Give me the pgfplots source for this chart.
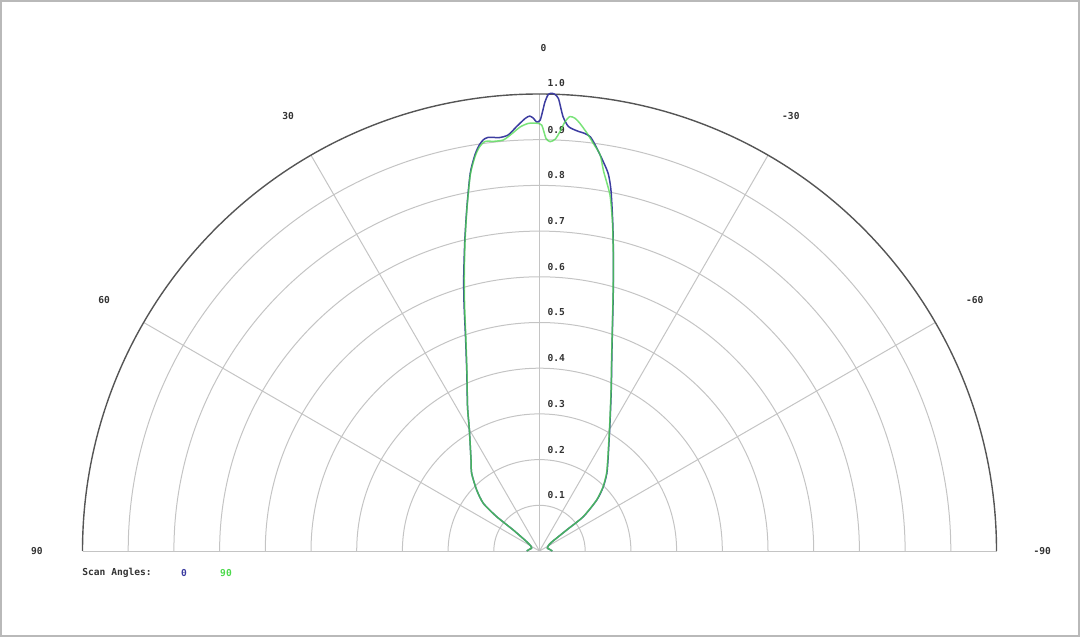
\documentclass[border=0pt]{standalone}
\usepackage{pgfplots}
\usepackage{pgfplotstable}
\pgfplotsset{compat=1.18}
\usepackage{fontspec}
\setmonofont{DejaVu Sans Mono}

\definecolor{scanblue}{HTML}{3C3CA0}
\definecolor{scangreen}{HTML}{4CD94C}
\definecolor{ringgray}{HTML}{C4C4C4}
\definecolor{rimgray}{HTML}{555555}
\newcommand{\lab}{\ttfamily\bfseries\fontsize{4.8}{5.5}\selectfont}

% t = scan angle in degrees (0 at top, +90 left), r = normalised level
\pgfplotstableread{
t r
90 0.028
80 0.022
70 0.018
60 0.022
54.0 0.035
51.3 0.074
51.3 0.120
49.7 0.161
45.8 0.192
41.1 0.226
37.0 0.249
30.1 0.306
26.5 0.353
22.2 0.421
19.3 0.489
17.1 0.561
16.1 0.598
15.2 0.632
13.5 0.700
11.9 0.770
10.4 0.840
9.3 0.877
8.5 0.897
7.8 0.908
7.1 0.912
5.5 0.909
4.3 0.913
3.1 0.930
1.9 0.947
1.3 0.952
0.8 0.947
0.4 0.939
-0.1 0.943
-0.7 0.983
-1.1 0.999
-1.5 1.002
-1.9 1.000
-2.4 0.991
-3.1 0.952
-3.9 0.931
-5.1 0.923
-6.2 0.919
-7.0 0.913
-7.8 0.897
-9.0 0.870
-10.3 0.840
-11.2 0.805
-12.6 0.735
-14.1 0.664
-15.8 0.593
-17.8 0.523
-20.4 0.454
-24.0 0.386
-28.9 0.319
-36.1 0.255
-40.9 0.225
-44.8 0.198
-48.3 0.168
-51.9 0.122
-52.3 0.075
-54.0 0.032
-60 0.022
-70 0.018
-80 0.022
-90 0.028
}\scanzero

\pgfplotstableread{
t r
90 0.028
80 0.022
70 0.018
60 0.022
54.0 0.035
51.3 0.074
51.3 0.120
49.7 0.161
45.8 0.192
41.1 0.226
37.0 0.249
30.1 0.306
26.5 0.353
22.2 0.420
19.3 0.487
17.1 0.557
16.1 0.593
15.2 0.628
13.5 0.698
11.9 0.769
10.4 0.838
9.3 0.874
8.5 0.893
7.6 0.904
6.3 0.902
5.0 0.903
3.8 0.915
2.6 0.929
1.5 0.936
0.4 0.936
-0.3 0.932
-0.9 0.903
-1.5 0.896
-2.2 0.902
-2.8 0.919
-3.4 0.941
-4.0 0.953
-4.7 0.950
-5.4 0.940
-6.5 0.920
-7.5 0.900
-8.7 0.877
-9.6 0.842
-11.2 0.794
-12.6 0.733
-14.1 0.663
-15.8 0.592
-17.8 0.522
-20.4 0.453
-24.0 0.385
-28.9 0.318
-36.1 0.254
-40.9 0.224
-44.8 0.197
-48.3 0.167
-51.9 0.121
-52.3 0.075
-54.0 0.032
-60 0.022
-70 0.018
-80 0.022
-90 0.028
}\scanninety

\begin{document}
\begin{tikzpicture}
\draw[gray!55, line width=0.8pt] (0.4pt,0.4pt) rectangle (539.6pt,318.1pt);
\begin{axis}[
    at={(41.25pt,43pt)}, anchor=south west,
    x=228.5pt, y=228.5pt,
    xmin=-1, xmax=1, ymin=0, ymax=1,
    enlargelimits=false,
    axis lines=none,
    clip=false,
    every axis plot/.append style={line width=0.75pt, line join=round},
]
% rings and spokes
\pgfplotsinvokeforeach{0.1,0.2,0.3,0.4,0.5,0.6,0.7,0.8,0.9}{
    \draw[ringgray, line width=0.5pt] (axis cs:#1,0) arc[start angle=0, end angle=180, radius=#1*228.5pt];
}
\draw[ringgray, line width=0.5pt] (axis cs:-1,0) -- (axis cs:1,0);
\draw[ringgray, line width=0.5pt] (axis cs:0,0) -- (axis cs:0,1);
\draw[ringgray, line width=0.5pt] (axis cs:0,0) -- (axis cs:-0.5,0.8660);
\draw[ringgray, line width=0.5pt] (axis cs:0,0) -- (axis cs:0.5,0.8660);
\draw[ringgray, line width=0.5pt] (axis cs:0,0) -- (axis cs:-0.8660,0.5);
\draw[ringgray, line width=0.5pt] (axis cs:0,0) -- (axis cs:0.8660,0.5);
\draw[rimgray, line width=0.7pt] (axis cs:1,0) arc[start angle=0, end angle=180, radius=228.5pt];

% radial labels
\pgfplotsinvokeforeach{0.1,0.2,0.3,0.4,0.5,0.6,0.7,0.8,0.9}{
    \node[anchor=west, inner sep=0pt, font=\lab, text=black!80, xshift=3.8pt, yshift=5pt] at (axis cs:0,#1) {#1};
}
\node[anchor=west, inner sep=0pt, font=\lab, text=black!80, xshift=3.8pt, yshift=5.5pt] at (axis cs:0,1) {1.0};

% angle labels
\node[font=\lab, text=black!80, xshift=2pt] at (axis cs:0,1.1) {0};
\node[font=\lab, text=black!80] at (axis cs:-0.55,0.9526) {30};
\node[font=\lab, text=black!80] at (axis cs:0.55,0.9526) {-30};
\node[font=\lab, text=black!80] at (axis cs:-0.9526,0.55) {60};
\node[font=\lab, text=black!80] at (axis cs:0.9526,0.55) {-60};
\node[font=\lab, text=black!80] at (axis cs:-1.1,0) {90};
\node[font=\lab, text=black!80] at (axis cs:1.1,0) {-90};

% scan angle 0
\addplot[scanblue, smooth, tension=0.4, data cs=polar]
    table[x expr=\thisrow{t}+90, y=r] {\scanzero};
% scan angle 90
\addplot[scangreen, draw opacity=0.75, smooth, tension=0.4, data cs=polar]
    table[x expr=\thisrow{t}+90, y=r] {\scanninety};
\end{axis}

\node[anchor=west, inner sep=0pt, font=\lab, text=black!80] at (41pt,32pt) {Scan Angles:};
\node[inner sep=0pt, font=\lab, text=scanblue] at (92pt,32pt) {0};
\node[inner sep=0pt, font=\lab, text=scangreen] at (113pt,32pt) {90};

\pgfresetboundingbox
\useasboundingbox (0pt,0pt) rectangle (540pt,318.5pt);
\end{tikzpicture}
\end{document}
